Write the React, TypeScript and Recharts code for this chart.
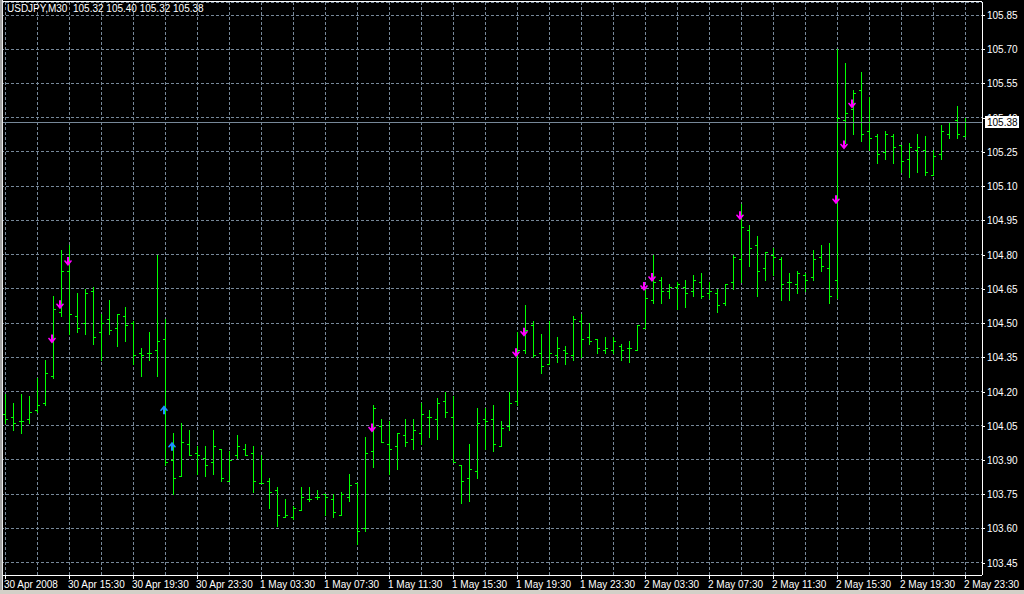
import { ComposedChart, Bar, XAxis, YAxis, CartesianGrid, ReferenceLine } from 'recharts';

// USDJPY M30, 30 Apr 2008 11:30 .. 2 May 2008 23:30, one bar per half hour
const symbol = 'USDJPY';
const period = 'M30';

const timeLabels = [
  '30 Apr 2008', '30 Apr 15:30', '30 Apr 19:30', '30 Apr 23:30',
  '1 May 03:30', '1 May 07:30', '1 May 11:30', '1 May 15:30',
  '1 May 19:30', '1 May 23:30', '2 May 03:30', '2 May 07:30',
  '2 May 11:30', '2 May 15:30', '2 May 19:30', '2 May 23:30',
];

const opens = [
  104.10, 104.09, 104.07, 104.08, 104.12, 104.15, 104.27, 104.55, 104.73, 104.53,
  104.50, 104.64, 104.46, 104.52, 104.48, 104.53, 104.50, 104.37, 104.37, 104.38,
  104.43, 103.90, 103.83, 103.97, 103.93, 103.91, 103.89, 103.95, 103.81, 103.92,
  103.95, 103.93, 103.80, 103.81, 103.77, 103.65, 103.65, 103.68, 103.73, 103.74,
  103.75, 103.73, 103.66, 103.74, 103.80, 103.60, 103.94, 104.05, 103.97, 103.96,
  104.01, 103.99, 104.02, 104.09, 104.08, 104.16, 104.09, 103.88, 103.82, 103.85,
  104.08, 104.08, 103.96, 104.05, 104.16, 104.38, 104.49, 104.37, 104.32, 104.36,
  104.38, 104.36, 104.51, 104.44, 104.43, 104.38, 104.38, 104.40, 104.39, 104.38,
  104.48, 104.60, 104.69, 104.64, 104.66, 104.66, 104.64, 104.68, 104.63, 104.63,
  104.59, 104.68, 104.78, 104.91, 104.84, 104.74, 104.80, 104.78, 104.68, 104.67,
  104.71, 104.70, 104.79, 104.74, 104.69, 105.39, 105.44, 105.52, 105.34, 105.32,
  105.25, 105.32, 105.28, 105.22, 105.26, 105.26, 105.15, 105.24, 105.33, 105.39,
  105.32,
];
const highs = [
  104.19, 104.15, 104.19, 104.18, 104.26, 104.34, 104.62, 104.82, 104.84, 104.63,
  104.65, 104.66, 104.54, 104.60, 104.54, 104.57, 104.51, 104.39, 104.46, 104.80,
  104.52, 104.02, 104.06, 104.03, 103.96, 103.96, 104.03, 103.95, 103.94, 104.01,
  103.97, 103.96, 103.92, 103.82, 103.78, 103.73, 103.70, 103.78, 103.78, 103.77,
  103.75, 103.75, 103.76, 103.84, 103.80, 104.00, 104.14, 104.08, 104.07, 104.02,
  104.08, 104.08, 104.15, 104.12, 104.17, 104.20, 104.18, 103.88, 103.97, 104.13,
  104.13, 104.14, 104.07, 104.20, 104.46, 104.58, 104.51, 104.45, 104.51, 104.44,
  104.40, 104.53, 104.54, 104.50, 104.43, 104.44, 104.44, 104.41, 104.42, 104.49,
  104.65, 104.80, 104.70, 104.67, 104.68, 104.69, 104.71, 104.72, 104.68, 104.65,
  104.67, 104.80, 105.02, 104.93, 104.88, 104.81, 104.83, 104.79, 104.72, 104.73,
  104.72, 104.82, 104.84, 104.85, 105.70, 105.64, 105.52, 105.60, 105.49, 105.33,
  105.34, 105.33, 105.28, 105.29, 105.33, 105.32, 105.26, 105.37, 105.38, 105.45,
  105.40,
];
const lows = [
  104.06, 104.03, 104.02, 104.06, 104.11, 104.14, 104.26, 104.53, 104.45, 104.46,
  104.45, 104.41, 104.34, 104.45, 104.40, 104.42, 104.32, 104.27, 104.34, 104.27,
  103.88, 103.75, 103.83, 103.92, 103.84, 103.83, 103.84, 103.81, 103.81, 103.91,
  103.92, 103.76, 103.80, 103.69, 103.61, 103.65, 103.64, 103.68, 103.72, 103.73,
  103.66, 103.65, 103.66, 103.72, 103.53, 103.59, 103.87, 103.98, 103.84, 103.86,
  103.96, 103.95, 103.97, 104.00, 103.99, 104.09, 103.89, 103.71, 103.72, 103.82,
  103.95, 103.94, 103.96, 104.03, 104.14, 104.37, 104.35, 104.28, 104.32, 104.33,
  104.32, 104.34, 104.35, 104.41, 104.37, 104.37, 104.37, 104.34, 104.33, 104.38,
  104.48, 104.59, 104.59, 104.61, 104.56, 104.57, 104.62, 104.61, 104.61, 104.55,
  104.58, 104.65, 104.68, 104.75, 104.62, 104.69, 104.71, 104.60, 104.60, 104.63,
  104.64, 104.69, 104.73, 104.59, 104.61, 105.29, 105.33, 105.30, 105.26, 105.20,
  105.22, 105.20, 105.16, 105.14, 105.16, 105.15, 105.15, 105.22, 105.31, 105.31,
  105.32,
];
const closes = [
  104.08, 104.06, 104.07, 104.11, 104.14, 104.28, 104.56, 104.73, 104.54, 104.48,
  104.63, 104.44, 104.50, 104.47, 104.54, 104.49, 104.36, 104.36, 104.37, 104.42,
  103.89, 103.82, 103.98, 103.92, 103.92, 103.88, 103.96, 103.82, 103.90, 103.96,
  103.92, 103.81, 103.80, 103.76, 103.66, 103.66, 103.69, 103.74, 103.73, 103.74,
  103.74, 103.67, 103.75, 103.79, 103.59, 103.93, 104.13, 103.98, 103.95, 104.02,
  103.98, 104.03, 104.10, 104.09, 104.15, 104.11, 103.89, 103.81, 103.86, 104.06,
  104.07, 103.97, 104.04, 104.15, 104.38, 104.47, 104.36, 104.31, 104.37, 104.39,
  104.37, 104.52, 104.43, 104.42, 104.39, 104.39, 104.42, 104.38, 104.39, 104.49,
  104.61, 104.68, 104.64, 104.66, 104.67, 104.63, 104.69, 104.62, 104.64, 104.58,
  104.67, 104.79, 104.92, 104.83, 104.73, 104.81, 104.79, 104.67, 104.68, 104.72,
  104.69, 104.78, 104.75, 104.62, 105.40, 105.42, 105.51, 105.33, 105.31, 105.24,
  105.33, 105.27, 105.21, 105.27, 105.27, 105.16, 105.23, 105.34, 105.38, 105.33,
  105.38,
];

// signal arrows: bar index and price level
const sellArrows = [
  { bar: 6, price: 104.43 }, { bar: 7, price: 104.58 }, { bar: 8, price: 104.77 },
  { bar: 46, price: 104.04 }, { bar: 64, price: 104.37 }, { bar: 65, price: 104.46 },
  { bar: 80, price: 104.66 }, { bar: 81, price: 104.70 }, { bar: 92, price: 104.97 },
  { bar: 104, price: 105.04 }, { bar: 105, price: 105.28 }, { bar: 106, price: 105.46 },
];
const buyArrows = [
  { bar: 20, price: 104.12 }, { bar: 21, price: 103.96 },
];

const priceTicks = [
  103.45, 103.60, 103.75, 103.90, 104.05, 104.20, 104.35, 104.50, 104.65,
  104.80, 104.95, 105.10, 105.25, 105.40, 105.55, 105.70, 105.85,
];
const lastPrice = closes[closes.length - 1];

const data = opens.map((o, i) => ({
  i,
  open: o,
  high: highs[i],
  low: lows[i],
  close: closes[i],
  sell: sellArrows.find((a) => a.bar === i)?.price,
  buy: buyArrows.find((a) => a.bar === i)?.price,
}));

const GRID = '#778899';
const BAR = '#00ff00';
const FONT = "'Liberation Sans', Arial, sans-serif";

const OhlcShape = (props: any) => {
  const { x, y, width, height, payload } = props;
  const top = Math.min(y, y + height);
  const bot = Math.max(y, y + height);
  const span = payload.high - payload.low;
  const py = (p: number) => (span > 0 ? top + ((payload.high - p) / span) * (bot - top) : top);
  const cx = Math.round(x + width / 2);
  const yt = Math.round(top);
  const yb = Math.round(bot);
  const a = cx - 1;
  return (
    <g>
      <rect x={cx} y={yt} width={1} height={yb - yt + 1} fill={BAR} />
      <rect x={cx - 2} y={Math.round(py(payload.open))} width={2} height={1} fill={BAR} />
      <rect x={cx + 1} y={Math.round(py(payload.close))} width={2} height={1} fill={BAR} />
      {payload.sell !== undefined && (() => {
        const t = py(payload.sell) - 4.5;
        return (
          <polygon
            fill="#ff00ff"
            points={`${a - 1},${t} ${a + 1},${t} ${a + 1},${t + 5} ${a + 3},${t + 3} ${a + 4},${t + 4} ${a},${t + 9} ${a - 4},${t + 4} ${a - 3},${t + 3} ${a - 1},${t + 5}`}
          />
        );
      })()}
      {payload.buy !== undefined && (() => {
        const b = py(payload.buy) + 4.5;
        return (
          <polygon
            fill="#1e90ff"
            points={`${a - 1},${b} ${a + 1},${b} ${a + 1},${b - 5} ${a + 3},${b - 3} ${a + 4},${b - 4} ${a},${b - 9} ${a - 4},${b - 4} ${a - 3},${b - 3} ${a - 1},${b - 5}`}
          />
        );
      })()}
    </g>
  );
};

const TimeTick = (props: any) => {
  const { x, y, payload } = props;
  const i = Number(payload.value);
  if (i % 8 !== 0) return <g />;
  const px = Math.round(x);
  return (
    <g>
      <rect x={px} y={y} width={1} height={4} fill="#fff" />
      <text x={px - 1} y={y + 13} fill="#fff" fontSize={10} fontFamily={FONT}>
        {timeLabels[i / 8]}
      </text>
    </g>
  );
};

const PriceTick = (props: any) => {
  const { x, y, payload } = props;
  const v = Number(payload.value);
  const py = Math.round(y);
  if (v === lastPrice) {
    return (
      <g>
        <rect x={x + 3} y={py - 6} width={34} height={12} fill="#fff" />
        <text x={x + 5} y={py + 4} fill="#000" fontSize={10} fontFamily={FONT}>
          {v.toFixed(2)}
        </text>
      </g>
    );
  }
  return (
    <g>
      <rect x={x} y={py} width={3} height={1} fill="#fff" />
      <text x={x + 5} y={py + 4} fill="#fff" fontSize={10} fontFamily={FONT}>
        {v.toFixed(2)}
      </text>
    </g>
  );
};

const App = () => {
  const last = data[data.length - 1];
  const header = `${symbol},${period}  ${last.open.toFixed(2)} ${last.high.toFixed(2)} ${last.low.toFixed(2)} ${last.close.toFixed(2)}`;
  return (
    <div style={{ position: 'fixed', left: 0, top: 0, width: 1024, height: 594, background: '#000', overflow: 'hidden' }}>
      <style>{'svg rect, svg line, svg path { shape-rendering: crispEdges; }'}</style>
      <ComposedChart width={1024} height={590} data={data} margin={{ top: 2, right: 0, bottom: 0, left: 1 }}>
        <CartesianGrid stroke={GRID} strokeDasharray="3 2" />
        <XAxis
          dataKey="i"
          type="category"
          interval={3}
          height={15}
          tickSize={0}
          tickMargin={0}
          tick={<TimeTick />}
          axisLine={{ stroke: '#fff' }}
          padding={{ left: 0, right: 13 }}
        />
        <YAxis
          orientation="right"
          type="number"
          domain={[103.396, 105.907]}
          allowDataOverflow
          ticks={[...priceTicks, lastPrice]}
          interval={0}
          width={42}
          tickSize={0}
          tickMargin={0}
          tick={<PriceTick />}
          axisLine={{ stroke: '#fff' }}
        />
        <ReferenceLine y={lastPrice} stroke={GRID} />
        <Bar dataKey={(d: any) => [d.low, d.high]} shape={<OhlcShape />} isAnimationActive={false} />
      </ComposedChart>
      <div style={{ position: 'absolute', left: 3, top: 1, width: 979, height: 1, background: '#fff' }} />
      <div style={{ position: 'absolute', left: 0, top: 0, width: 2, height: 594, background: '#a0a0a0' }} />
      <div style={{ position: 'absolute', left: 2, top: 0, width: 1, height: 594, background: '#e8e8e8' }} />
      <div style={{ position: 'absolute', left: 0, top: 590, width: 1024, height: 4, background: '#d4d0c8' }} />
      <div
        style={{
          position: 'absolute', left: 7, top: 3, color: '#fff', fontSize: 10,
          fontFamily: FONT, whiteSpace: 'pre', lineHeight: '12px',
        }}
      >
        {header}
      </div>
    </div>
  );
};

export default App;
